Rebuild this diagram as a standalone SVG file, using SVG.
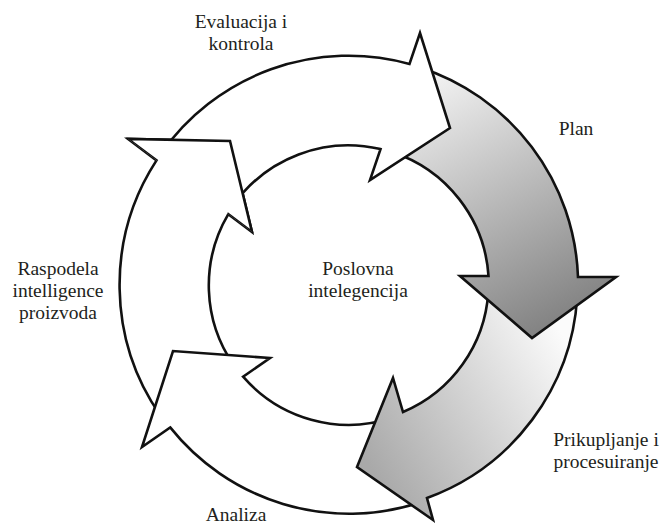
<svg xmlns="http://www.w3.org/2000/svg" xmlns:xlink="http://www.w3.org/1999/xlink" width="663" height="524" viewBox="0 0 663 524">
  <defs>
    <style>
      .arrow { stroke: #111; stroke-width: 2.6; stroke-linejoin: miter; stroke-miterlimit: 10; }
      .white { fill: #ffffff; }
      .lbl { font-family: "Liberation Serif", "Times New Roman", serif; font-size: 19.5px; fill: #231f20; text-anchor: middle; }
    </style>
    <linearGradient id="gradPlan" gradientUnits="userSpaceOnUse" x1="420" y1="80" x2="560" y2="340">
      <stop offset="0" stop-color="#f3f3f3"/>
      <stop offset="1" stop-color="#7c7c7c"/>
    </linearGradient>
    <linearGradient id="gradCollect" gradientUnits="userSpaceOnUse" x1="560" y1="330" x2="360" y2="450">
      <stop offset="0" stop-color="#fbfbfb"/>
      <stop offset="1" stop-color="#a9a9a9"/>
    </linearGradient>
    <!-- head region of the left arrow, in front of its base line -->
    <clipPath id="clipDistHead">
      <polygon points="116,130 264,241 336,145 188,34"/>
    </clipPath>
  </defs>

  <rect width="663" height="524" fill="#ffffff"/>

  <!-- ring of five curved arrows, drawn so each head lies over the next tail -->
  <g id="cycle">
    <g id="raspodela">
      <path id="arrowDist" class="arrow white" d="M 160.9,416.3 A 229,229 0 0 1 156.5,160.4 L 128,139 L 230,141 L 252,232 L 228.3,214.2 A 140,140 0 0 0 233.8,365.3 Z"/>
      <text class="lbl" x="58" y="275">Raspodela</text>
      <text class="lbl" x="58" y="297">intelligence</text>
      <text class="lbl" x="58" y="319">proizvoda</text>
    </g>
    <g id="analiza">
      <path class="arrow white" d="M 419.3,502.8 A 229,229 0 0 1 170.2,427.4 L 142,447 L 173,351 L 270,358 L 243.1,376.7 A 140,140 0 0 0 391.8,418.1 Z"/>
      <text class="lbl" x="236" y="521">Analiza</text>
    </g>
    <g id="prikupljanje">
      <path class="arrow" fill="url(#gradCollect)" d="M 577.2,297 A 229,229 0 0 1 427,498 L 433,520 L 357,467 L 393,378 L 403,412 A 140,140 0 0 0 488.3,292.3 Z"/>
      <text class="lbl" x="606" y="446">Prikupljanje i</text>
      <text class="lbl" x="606" y="468">procesuiranje</text>
    </g>
    <g id="plan">
      <path class="arrow" fill="url(#gradPlan)" d="M 419.3,67.2 A 229,229 0 0 1 578,277 L 616,277 L 532,338 L 460,276 L 488.5,276 A 140,140 0 0 0 391.8,151.9 Z"/>
      <text class="lbl" x="576" y="135">Plan</text>
    </g>
    <g id="evaluacija">
      <path class="arrow white" d="M 160.9,153.7 A 229,229 0 0 1 409.5,63.9 L 420,33 L 450,128 L 370,180 L 380.5,149.1 A 140,140 0 0 0 233.8,204.7 Z"/>
      <text class="lbl" x="241" y="28">Evaluacija i</text>
      <text class="lbl" x="241" y="50">kontrola</text>
    </g>
    <!-- left arrow head repeated on top of the tail of the top arrow -->
    <use xlink:href="#arrowDist" href="#arrowDist" clip-path="url(#clipDistHead)"/>
  </g>

  <g id="center">
    <text class="lbl" x="358" y="275">Poslovna</text>
    <text class="lbl" x="358" y="297">intelegencija</text>
  </g>
</svg>
